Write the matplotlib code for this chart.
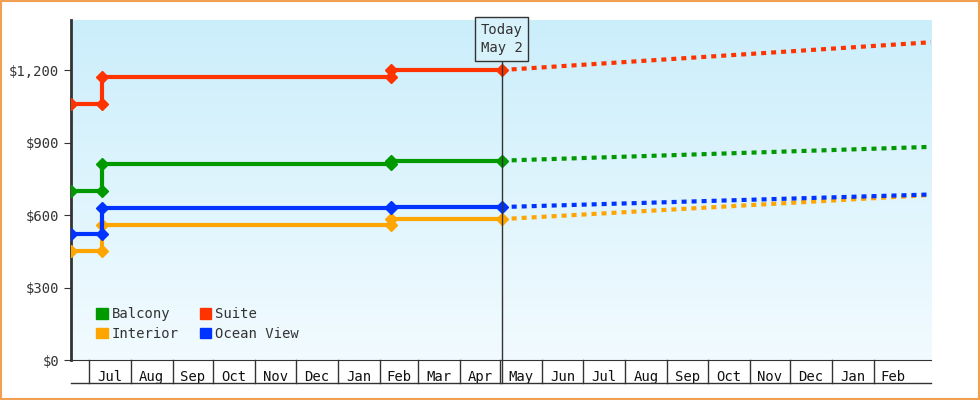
import matplotlib
matplotlib.use("Agg")
import matplotlib.pyplot as plt
import matplotlib.dates as mdates
import numpy as np
from datetime import date

series = ["Balcony", "Suite", "Interior", "Ocean View"]
colors = {"Balcony": "#009900", "Suite": "#ff3300", "Interior": "#ffa500", "Ocean View": "#0033ff"}
hist_dates = [date(2024, 6, 18), date(2024, 7, 11), date(2024, 7, 11), date(2025, 2, 9), date(2025, 2, 9), date(2025, 5, 2)]
hist_vals = {
    "Balcony":    [700, 700, 812, 812, 825, 825],
    "Suite":      [1060, 1060, 1170, 1170, 1200, 1200],
    "Interior":   [450, 450, 558, 558, 583, 583],
    "Ocean View": [520, 520, 630, 630, 633, 633],
}
fc_dates = [date(2025, 5, 2), date(2026, 3, 15)]
fc_vals = {
    "Balcony": [825, 882],
    "Suite": [1200, 1315],
    "Interior": [583, 683],
    "Ocean View": [633, 685],
}
today = date(2025, 5, 2)
yticks = [0, 300, 600, 900, 1200]
xstart, xend = date(2024, 6, 18), date(2026, 3, 15)

plt.rcParams["font.family"] = "DejaVu Sans Mono"
fig = plt.figure(figsize=(9.8, 4), dpi=100)
fig.patches.append(plt.Rectangle((0.001, 0.002), 0.998, 0.996, transform=fig.transFigure,
                                 fill=False, edgecolor="#f0a050", lw=1.5))
ax = fig.add_axes([71/980, 40/400, 860/980, 340/400])
ax.set_xlim(mdates.date2num(xstart), mdates.date2num(xend))
ax.set_ylim(0, 1407)

grad = np.linspace(1, 0, 256).reshape(-1, 1)
from matplotlib.colors import LinearSegmentedColormap
cm = LinearSegmentedColormap.from_list("g", ["#f2fbff", "#cbeefb"])
ax.imshow(grad, extent=[0, 1, 0, 1], transform=ax.transAxes, cmap=cm, aspect="auto", zorder=0, origin="upper")

hd = mdates.date2num(hist_dates)
fd = mdates.date2num(fc_dates)
for s in series:
    c = colors[s]
    ax.plot(hd, hist_vals[s], color=c, lw=3, marker="D", ms=6, zorder=3)
    ax.plot(fd, fc_vals[s], color=c, lw=3, ls=(0, (1.2, 1.2)), zorder=3)

td = mdates.date2num(today)
ax.plot([td, td], [-0.068, 1.0], transform=ax.get_xaxis_transform(), color="#333333", lw=1, clip_on=False, zorder=4)
ax.text(td, 1395, "Today\nMay 2", ha="center", va="top", fontsize=10, color="#333333", zorder=5,
        bbox=dict(boxstyle="square,pad=0.4", fc="#d8f2fc", ec="#333333", lw=1), linespacing=1.4)

for sp in ["top", "right"]:
    ax.spines[sp].set_visible(False)
ax.spines["left"].set_linewidth(2)
ax.spines["left"].set_color("#333333")
ax.spines["bottom"].set_color("#333333")
ax.set_yticks(yticks)
ax.set_yticklabels(["$" + format(v, ",") for v in yticks], fontsize=10, color="#333333")
ax.tick_params(axis="y", length=5, color="#333333")

months = []
y, m = 2024, 7
while (y, m) <= (2026, 3):
    months.append(date(y, m, 1))
    m += 1
    if m > 12:
        m, y = 1, y + 1
mn = mdates.date2num(months)
ax.set_xticks([(a + b) / 2 for a, b in zip(mn[:-1], mn[1:])])
ax.set_xticklabels([d.strftime("%b") for d in months[:-1]], fontsize=10, color="#111111")
ax.tick_params(axis="x", length=0, pad=7)
trans = ax.get_xaxis_transform()
for x in mn[:-1]:
    ax.plot([x, x], [0, -0.068], transform=trans, color="#333333", lw=1, clip_on=False)
ax.plot([0, 1], [-0.068, -0.068], transform=ax.transAxes, color="#333333", lw=1, clip_on=False)

from matplotlib.patches import Patch
handles = [Patch(color=colors[s], label=s) for s in ["Balcony", "Interior", "Suite", "Ocean View"]]
leg = ax.legend(handles=handles, ncol=2, loc="lower left", bbox_to_anchor=(0.015, 0.02), frameon=False,
                fontsize=10, handlelength=0.8, handleheight=0.8, handletextpad=0.3, columnspacing=1.5,
                labelspacing=0.4)
for t in leg.get_texts():
    t.set_color("#333333")

fig.savefig("out.png", dpi=100)
